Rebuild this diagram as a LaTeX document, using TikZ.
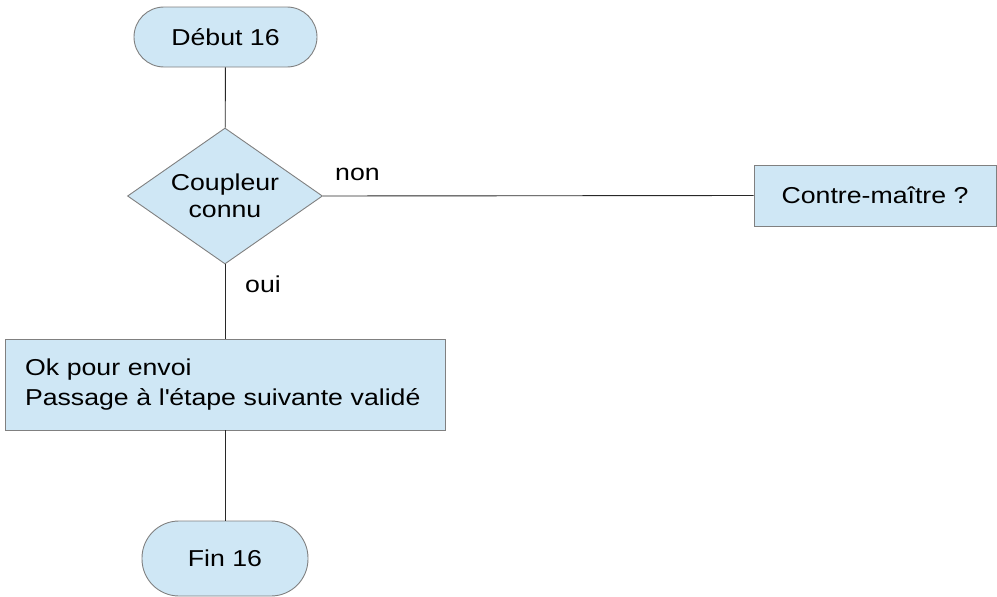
\documentclass[tikz,border=0pt]{standalone}
\usepackage{fontspec}
\setmainfont[FakeStretch=1.16]{Liberation Sans}
\usetikzlibrary{shapes.geometric}
\definecolor{boxfill}{RGB}{207,231,245}
\definecolor{boxdraw}{RGB}{128,128,128}
\definecolor{linec}{RGB}{40,40,40}
\tikzset{
  base/.style={draw=boxdraw, fill=boxfill, line width=0.9pt, inner sep=0pt, text=black},
  term/.style={base, rectangle},
  proc/.style={base, rectangle},
  decision/.style={base, diamond, aspect=1.43, minimum width=195pt, minimum height=136pt, align=center, font=\fontsize{23}{27.5}\selectfont},
  conn/.style={draw=linec, line width=0.9pt},
  lbl/.style={anchor=base west, inner sep=0pt}
}
\begin{document}
\begin{tikzpicture}[x=1pt,y=-1pt, font=\fontsize{23}{30}\selectfont]
\useasboundingbox (0,0) rectangle (997,597);
\node[term, minimum width=183pt, minimum height=60pt, rounded corners=30pt] (start) at (225.5,37) {Début 16};
\node[decision] (dec) at (225,196) {Coupleur\\connu};
\node[proc, minimum width=242pt, minimum height=61pt] (cm) at (875,195.5) {Contre-maître ?};
\node[proc, minimum width=440pt, minimum height=91pt, text width=400pt, align=left] (ok) at (225,384.5) {Ok pour envoi\\Passage à l\textquotesingle étape suivante validé};
\node[term, minimum width=166pt, minimum height=75pt, rounded corners=37pt] (fin) at (225,558.5) {Fin 16};
\draw[conn] (start) -- (dec);
\draw[conn] (dec) -- (ok);
\draw[conn] (ok) -- (fin);
\draw[conn] (dec.east) -- (cm.west);
\node[lbl] (non) at (335,180) {non};
\node[lbl] (oui) at (245,292) {oui};
\end{tikzpicture}
\end{document}
